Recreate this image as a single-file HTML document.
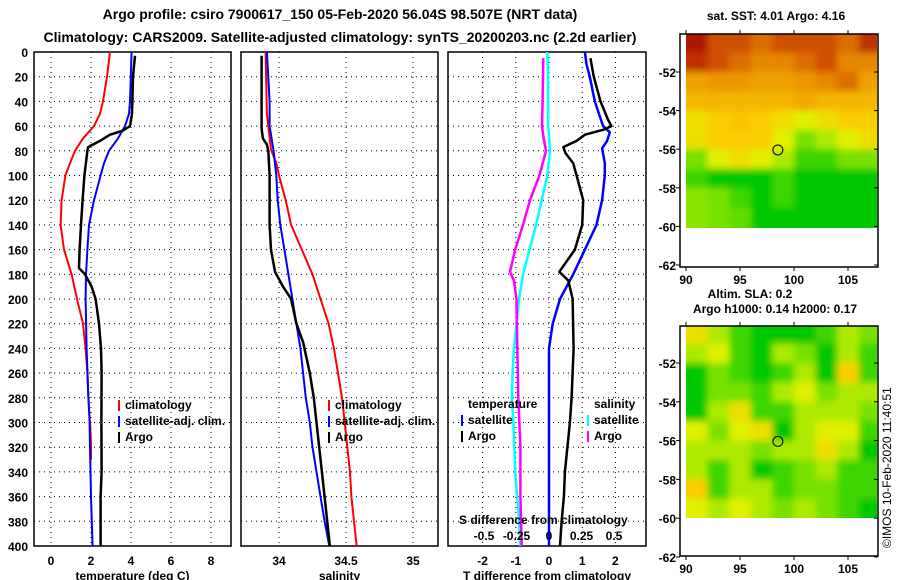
<!DOCTYPE html>
<html><head><meta charset="utf-8"><style>
html,body{margin:0;padding:0;background:#fff;}
svg{display:block;font-family:"Liberation Sans",sans-serif;font-weight:bold;}
</style></head><body>
<svg id="c" width="900" height="580" viewBox="0 0 900 580">
<defs>
<filter id="blur" x="-5%" y="-5%" width="110%" height="110%"><feGaussianBlur stdDeviation="3.5"/></filter>
<clipPath id="clip1"><rect x="686" y="34" width="191" height="194"/></clipPath>
<clipPath id="clip2"><rect x="686" y="326" width="191" height="192"/></clipPath>
</defs>
<text x="340" y="19" text-anchor="middle" font-size="14">Argo profile: csiro 7900617_150 05-Feb-2020 56.04S 98.507E (NRT data)</text>
<text x="340" y="42" text-anchor="middle" font-size="14">Climatology: CARS2009. Satellite-adjusted climatology: synTS_20200203.nc (2.2d earlier)</text>
<text x="776" y="20" text-anchor="middle" font-size="12">sat. SST: 4.01 Argo: 4.16</text>
<text x="750" y="298" text-anchor="middle" font-size="12">Altim. SLA: 0.2</text>
<text x="775" y="313" text-anchor="middle" font-size="12">Argo h1000: 0.14 h2000: 0.17</text>
<text transform="translate(891,548) rotate(-90)" font-size="12" font-weight="normal">©IMOS 10-Feb-2020 11:40:51</text>
<g id="g"></g>
</svg>
<script>
// ---- data ----
const depthTicks=[0,20,40,60,80,100,120,140,160,180,200,220,240,260,280,300,320,340,360,380,400];
const tempTicks=[0,2,4,6,8];
const salTicks=[34,34.5,35];
const salTickLabels=["34","34.5","35"];
const tdiffTicks=[-2,-1,0,1,2];
const sdiffTicks=[-0.5,-0.25,0,0.25,0.5];
const sdiffTickLabels=["-0.5","-0.25","0","0.25","0.5"];

const climTD=[0,20,40,50,60,70,80,90,100,120,140,160,180,200,220,240,260,280,300,316,330];
const climT=[2.95,2.8,2.6,2.45,2.15,1.6,1.2,0.95,0.72,0.53,0.48,0.65,1.03,1.3,1.6,1.73,1.82,1.87,1.95,2.0,2.0];
const satTD=[0,40,50,60,70,80,90,100,120,140,160,180,200,240,280,300,320,360,400];
const satT=[4.03,3.95,3.9,3.7,3.35,2.9,2.65,2.48,2.15,1.9,1.82,1.75,1.73,1.78,1.87,1.93,1.95,2.0,2.08];
const argoTD=[3,20,50,60,64,67,72,77,80,100,120,140,160,175,180,190,200,220,240,260,300,340,360,400];
const argoT=[4.2,4.1,4.05,3.95,3.55,2.95,2.45,1.85,1.82,1.67,1.58,1.5,1.43,1.4,1.7,2.03,2.23,2.4,2.5,2.53,2.52,2.53,2.48,2.48];

const argoSD=[3,62,70,75,80,100,140,160,178,190,200,220,235,260,280,300,320,340,360,380,400];
const argoS=[33.87,33.87,33.88,33.91,33.92,33.93,33.93,33.94,33.97,34.03,34.09,34.13,34.18,34.23,34.26,34.28,34.3,34.32,34.34,34.36,34.38];
const satSD=[0,40,60,80,100,120,140,160,180,200,220,240,260,280,300,320,340,360,380,400];
const satS=[33.91,33.93,33.93,33.96,33.98,33.99,34.01,34.04,34.07,34.1,34.13,34.16,34.18,34.2,34.23,34.25,34.28,34.31,34.34,34.375];
const climSD=[0,50,79,90,100,120,140,160,180,200,220,240,260,280,300,320,340,360,380,400];
const climS=[33.9,33.91,33.94,33.98,34.0,34.05,34.09,34.17,34.25,34.31,34.37,34.41,34.44,34.47,34.49,34.51,34.53,34.54,34.56,34.58];

const dArgoSD=[5,20,40,60,70,80,100,120,140,160,178,185,200,240,280,320,360,400];
const dArgoS=[-0.044,-0.046,-0.049,-0.054,-0.041,-0.023,-0.074,-0.146,-0.2,-0.26,-0.3,-0.27,-0.25,-0.244,-0.236,-0.22,-0.22,-0.21];
const dSatSD=[0,20,60,80,100,120,140,160,180,200,220,240,260,280,300,340,380,400];
const dSatS=[-0.013,-0.008,-0.006,0.008,-0.013,-0.056,-0.1,-0.15,-0.2,-0.23,-0.25,-0.27,-0.28,-0.285,-0.274,-0.26,-0.23,-0.22];
const dSatTD=[0,10,20,40,60,65,72,78,90,100,120,140,160,180,200,220,240,400];
const dSatT=[1.08,1.13,1.23,1.38,1.63,1.83,1.75,1.6,1.68,1.68,1.6,1.43,1.08,0.73,0.33,0.11,0.0,0.0];
const dArgoTD=[5,10,20,40,55,60,63,67,72,77,82,90,100,120,140,160,178,185,200,240,280,300,340,360,380,400];
const dArgoT=[1.25,1.28,1.35,1.55,1.78,1.88,1.63,1.08,0.83,0.43,0.5,0.73,0.83,1.03,1.0,0.78,0.31,0.58,0.71,0.74,0.68,0.63,0.48,0.45,0.38,0.33];

const latTicks=[-52,-54,-56,-58,-60,-62];
const lonTicks=[90,95,100,105];
const gridLats=[-50,-51,-52,-53,-54,-55,-56,-57,-58,-59]; // top edges
const gridLons=[90,92,94,96,98,100,102,104,106]; // left edges
const sst=[
[0.95,0.85,0.85,0.8,0.85,0.85,0.85,0.8,0.9],
[0.9,0.85,0.8,0.75,0.75,0.8,0.85,0.75,0.75],
[0.7,0.72,0.72,0.7,0.7,0.72,0.75,0.8,0.7],
[0.65,0.65,0.65,0.65,0.65,0.68,0.65,0.65,0.65],
[0.55,0.6,0.62,0.6,0.55,0.5,0.55,0.6,0.6],
[0.55,0.6,0.6,0.6,0.5,0.4,0.45,0.5,0.55],
[0.4,0.5,0.55,0.5,0.45,0.35,0.35,0.4,0.4],
[0.35,0.3,0.3,0.3,0.35,0.3,0.3,0.3,0.3],
[0.42,0.4,0.35,0.3,0.35,0.3,0.3,0.3,0.3],
[0.42,0.4,0.38,0.3,0.3,0.3,0.3,0.3,0.3]];
const sla=[
[0.55,0.45,0.35,0.3,0.3,0.3,0.35,0.45,0.4],
[0.45,0.5,0.35,0.3,0.45,0.4,0.3,0.45,0.35],
[0.3,0.4,0.35,0.3,0.35,0.45,0.3,0.6,0.35],
[0.3,0.4,0.4,0.35,0.45,0.5,0.4,0.45,0.45],
[0.3,0.45,0.55,0.35,0.35,0.45,0.45,0.45,0.4],
[0.5,0.4,0.5,0.55,0.3,0.45,0.5,0.5,0.35],
[0.45,0.45,0.45,0.4,0.45,0.45,0.55,0.45,0.3],
[0.45,0.35,0.45,0.3,0.35,0.4,0.45,0.35,0.35],
[0.6,0.35,0.45,0.45,0.35,0.4,0.4,0.35,0.35],
[0.5,0.45,0.5,0.45,0.4,0.45,0.4,0.35,0.3]];
const argoLon=98.507, argoLat=-56.04;

// ---- drawing ----
const NS="http://www.w3.org/2000/svg";
const G=document.getElementById('g');
function mk(tag,at,parent){const e=document.createElementNS(NS,tag);for(const k in at)e.setAttribute(k,at[k]);(parent||G).appendChild(e);return e;}
const yD=d=>52+d*1.235;
const P1={l:34,r:231}, P2={l:241,r:438}, P3={l:448,r:646};
const xT=t=>51+20*t;
const xS=s=>279+134*(s-34);
const xTD=t=>549+33.2*t;
const xSD=s=>549+130*s;

function panel(p,name,xt,ticks,labels,title){
  const frame=mk('rect',{x:p.l,y:52,width:p.r-p.l,height:494,fill:'none',stroke:'#000','stroke-width':1.5});
  
  
  depthTicks.forEach(d=>{if(d===0||d===400)return;
    const l=mk('line',{x1:p.l,x2:p.r,y1:yD(d),y2:yD(d),stroke:'#000','stroke-dasharray':'1,4'});
    
    });
  ticks.forEach((t,i)=>{
    const l=mk('line',{x1:xt(t),x2:xt(t),y1:52,y2:546,stroke:'#000','stroke-dasharray':'1,4'});
    
    
    const tx=mk('text',{x:xt(t),y:565,'text-anchor':'middle','font-size':12});tx.textContent=labels[i];
    
    
  });
  const at=mk('text',{x:(p.l+p.r)/2,y:580,'text-anchor':'middle','font-size':12});at.textContent=title;
  
  
}
panel(P1,'temperature-panel',xT,tempTicks,tempTicks.map(String),'temperature (deg C)');
panel(P2,'salinity-panel',xS,salTicks,salTickLabels,'salinity');
panel(P3,'difference-panel',xTD,tdiffTicks,tdiffTicks.map(String),'T difference from climatology');
depthTicks.forEach(d=>{
  const t=mk('text',{x:28,y:yD(d)+5,'text-anchor':'end','font-size':12});t.textContent=d;
  
  
});
function line(xs,ds,xf,color,w,name){
  const pts=xs.map((v,i)=>xf(v).toFixed(1)+','+yD(ds[i]).toFixed(1)).join(' ');
  const pl=mk('polyline',{points:pts,fill:'none',stroke:color,'stroke-width':w,'stroke-linejoin':'round'});
  
  
}
line(climT,climTD,xT,'#f00',2,'temp-climatology-line');
line(satT,satTD,xT,'#00f',2,'temp-satellite-line');
line(argoT,argoTD,xT,'#000',2.5,'temp-argo-line');
line(climS,climSD,xS,'#f00',2,'sal-climatology-line');
line(satS,satSD,xS,'#00f',2,'sal-satellite-line');
line(argoS,argoSD,xS,'#000',2.5,'sal-argo-line');
line(dSatS,dSatSD,xSD,'#0ff',2.5,'sdiff-satellite-line');
line(dArgoS,dArgoSD,xSD,'#f0f',2.5,'sdiff-argo-line');
line(dSatT,dSatTD,xTD,'#00f',2.5,'tdiff-satellite-line');
line(dArgoT,dArgoTD,xTD,'#000',2.5,'tdiff-argo-line');
const st=mk('text',{x:459,y:524,'font-size':12});st.textContent='S difference from climatology';


sdiffTicks.forEach((s,i)=>{const t=mk('text',{x:xSD(s),y:540,'text-anchor':'middle','font-size':12});t.textContent=sdiffTickLabels[i];
  
  });
function leg(x,y,color,label,name){
  const r=mk('rect',{x:x,y:y-9,width:2,height:11,fill:color});
  
  
  const t=mk('text',{x:x+7,y:y,'font-size':12});t.textContent=label;
  
  
}
leg(118,409,'#f00','climatology','legend-climatology');
leg(118,425,'#00f','satellite-adj. clim.','legend-satellite');
leg(118,441,'#000','Argo','legend-argo');
leg(328,409,'#f00','climatology','legend-sal-climatology');
leg(328,425,'#00f','satellite-adj. clim.','legend-sal-satellite');
leg(328,441,'#000','Argo','legend-sal-argo');
const tt=mk('text',{x:468,y:408,'font-size':12});tt.textContent='temperature';


const sh=mk('text',{x:594,y:408,'font-size':12});sh.textContent='salinity';


leg(461,424,'#00f','satellite','legend-tdiff-satellite');
leg(461,440,'#000','Argo','legend-tdiff-argo');
leg(587,424,'#0ff','satellite','legend-sdiff-satellite');
leg(587,440,'#f0f','Argo','legend-sdiff-argo');

// maps
const stops=[[0.2,[0,160,130]],[0.3,[0,200,0]],[0.4,[120,225,0]],[0.5,[225,240,0]],[0.6,[250,205,0]],[0.7,[240,160,0]],[0.8,[220,110,0]],[0.9,[190,50,0]],[1.0,[160,0,0]]];
function cmap(v){
  if(v<=stops[0][0])return 'rgb('+stops[0][1]+')';
  for(let i=1;i<stops.length;i++){if(v<=stops[i][0]){const a=stops[i-1],b=stops[i],f=(v-a[0])/(b[0]-a[0]);
    return 'rgb('+a[1].map((c,k)=>Math.round(c+(b[1][k]-c)*f)).join(',')+')';}}
  return 'rgb('+stops[stops.length-1][1]+')';
}
function map(M,data,name,clip){
  const xL=lon=>686+10.8*(lon-90);
  const yL=lat=>M.y52+(-52-lat)*M.s;
  const outer=mk('g',{'clip-path':'url(#'+clip+')'});
  const inner=mk('g',{filter:'url(#blur)'},outer);
  data.forEach((row,i)=>row.forEach((v,j)=>{
    const x0=j===0?676:xL(gridLons[j]), x1=j===row.length-1?887:xL(gridLons[j]+2);
    const y0=i===0?M.top-10:yL(gridLats[i]), y1=i===data.length-1?yL(gridLats[i]-1)+10:yL(gridLats[i]-1);
    const r=mk('rect',{x:x0.toFixed(1),y:y0.toFixed(1),width:(x1-x0+0.6).toFixed(1),height:(y1-y0+0.6).toFixed(1),fill:cmap(v)},inner);
    
    
  }));
  const f=mk('rect',{x:680,y:M.top,width:198,height:M.bot-M.top,fill:'none',stroke:'#000','stroke-width':1.5});
  
  
  latTicks.forEach(la=>{const t=mk('text',{x:676,y:yL(la)+5,'text-anchor':'end','font-size':12});t.textContent=la;
    
    
    mk('line',{x1:680,x2:676,y1:yL(la),y2:yL(la),stroke:'#000'});
    mk('line',{x1:878,x2:874,y1:yL(la),y2:yL(la),stroke:'#000'});});
  lonTicks.forEach(lo=>{const t=mk('text',{x:xL(lo),y:M.bot+17,'text-anchor':'middle','font-size':12});t.textContent=lo;
    
    
    mk('line',{x1:xL(lo),x2:xL(lo),y1:M.bot,y2:M.bot+4,stroke:'#000'});
    mk('line',{x1:xL(lo),x2:xL(lo),y1:M.top,y2:M.top-4,stroke:'#000'});});
  const c=mk('circle',{cx:xL(argoLon),cy:yL(argoLat),r:5,fill:'none',stroke:'#000','stroke-width':1});
  
  
}
map({top:34,bot:267,y52:72,s:19.3},sst,'sst-map','clip1');
map({top:326,bot:556,y52:363,s:19.4},sla,'sla-map','clip2');
</script>
</body></html>
